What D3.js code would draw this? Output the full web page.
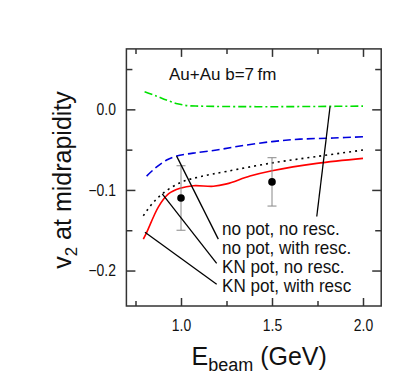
<!DOCTYPE html>
<meta charset="utf-8">
<script src="https://d3js.org/d3.v7.min.js"></script>
<style>
  body { margin: 0; background: #fff; }
  text { font-family: "Liberation Sans", Arial, sans-serif; fill: #111; }
</style>
<div id="chart"></div>
<script>
    // curves (E_beam in GeV, v2)
    var noPotNoRescE = [0.80, 0.86, 0.92, 0.98, 1.04, 1.10, 1.25, 1.50, 1.75, 2.00]
    var noPotNoRescV = [0.0218, 0.017, 0.0115, 0.007, 0.0045, 0.004, 0.0035, 0.0033, 0.0036, 0.004]

    var noPotRescE = [0.811, 0.857, 0.921, 0.976, 1.031, 1.086, 1.196, 1.324, 1.50, 1.654, 1.837, 2.00]
    var noPotRescV = [-0.0828, -0.0732, -0.0629, -0.058, -0.0555, -0.0538, -0.0505, -0.0455, -0.040, -0.037, -0.0356, -0.034]

    var knNoRescE = [0.793, 0.842, 0.897, 0.995, 1.104, 1.251, 1.50, 1.746, 2.00]
    var knNoRescV = [-0.132, -0.117, -0.105, -0.091, -0.0836, -0.077, -0.0665, -0.0585, -0.0505]

    var knRescE = [0.793, 0.811, 0.876, 0.931, 0.995, 1.068, 1.178, 1.251, 1.379, 1.50, 1.746, 2.00]
    var knRescV = [-0.161, -0.153, -0.121, -0.105, -0.098, -0.0948, -0.0955, -0.0925, -0.0828, -0.0762, -0.067, -0.0608]

    // measured points with errors
    var dataE = [1.0, 1.5]
    var dataV = [-0.110, -0.090]
    var dataErr = [0.040, 0.030]

    // legend texts and pointer lines (tip on curve -> end near text)
    var labels = ["no pot, no resc.", "no pot, with resc.", "KN pot, no resc.", "KN pot, with resc"]
    var pointerFromE = [1.819, 0.976, 0.897, 0.802]
    var pointerFromV = [0.0035, -0.058, -0.105, -0.1526]
    var pointerToE = [1.746, 1.205, 1.196, 1.196]
    var pointerToV = [-0.133, -0.161, -0.191, -0.217]

    var xMajor = [1.0, 1.5, 2.0]
    var xMinor = [0.75, 1.25, 1.75]
    var yMajor = [0.0, -0.1, -0.2]
    var yMinor = [0.05, -0.05, -0.15]

    var W = 415, H = 387

    var svg = d3.select("#chart").append("svg")
        .attr("width", W)
        .attr("height", H)

    var x = d3.scaleLinear().domain([0.7, 2.1]).range([126.4, 381.2])
    var y = d3.scaleLinear().domain([-0.244, 0.075]).range([306, 48.9])

    var frameBottom = y(-0.244), frameTop = y(0.075), frameLeft = x(0.7), frameRight = x(2.1)

    // frame
    svg.append("rect")
        .attr("x", frameLeft).attr("y", frameTop)
        .attr("width", frameRight - frameLeft)
        .attr("height", frameBottom - frameTop)
        .attr("fill", "none")
        .attr("stroke", "#333")
        .attr("stroke-width", 1.5)

    // ticks on all four sides, pointing inwards
    function ticks(axisFn, scale, values, size, pos, labelled, padding) {
        var g = svg.append("g")
            .attr("transform", pos)
            .call(axisFn(scale).tickValues(values).tickSizeInner(-size).tickSizeOuter(0)
                .tickPadding(padding || 0))
        g.select(".domain").remove()
        g.selectAll("line").attr("stroke", "#333").attr("stroke-width", 1.5)
        g.selectAll("text").attr("font-size", 16).attr("fill", "#111")
            .text(function (d) { return labelled ? d3.format(".1f")(d).replace("-", "\u2212") : "" })
        return g
    }
    ticks(d3.axisBottom, x, xMajor, 8, "translate(0," + frameBottom + ")", true, 14)
        .selectAll("text").attr("transform", "scale(0.87,1)")
    ticks(d3.axisBottom, x, xMinor, 5, "translate(0," + frameBottom + ")", false)
    ticks(d3.axisTop, x, xMajor, 8, "translate(0," + frameTop + ")", false)
    ticks(d3.axisTop, x, xMinor, 5, "translate(0," + frameTop + ")", false)
    ticks(d3.axisLeft, y, yMajor, 9, "translate(" + frameLeft + ",0)", true, 12)
        .selectAll("text").attr("transform", "scale(0.87,1)")
    ticks(d3.axisLeft, y, yMinor, 6, "translate(" + frameLeft + ",0)", false)
    ticks(d3.axisRight, y, yMajor, 9, "translate(" + frameRight + ",0)", false)
    ticks(d3.axisRight, y, yMinor, 6, "translate(" + frameRight + ",0)", false)

    // curves
    var line = d3.line()
        .x(function (d) { return x(d[0]) })
        .y(function (d) { return y(d[1]) })
        .curve(d3.curveCatmullRom.alpha(0.5))

    function curve(es, vs, color, dash) {
        svg.append("path")
            .datum(d3.zip(es, vs))
            .attr("d", line)
            .attr("fill", "none")
            .attr("stroke", color)
            .attr("stroke-width", 1.6)
            .attr("stroke-dasharray", dash)
    }
    curve(noPotNoRescE, noPotNoRescV, "#00e000", "8,3,2,3")
    curve(noPotRescE, noPotRescV, "#0000dd", "8,4")
    curve(knNoRescE, knNoRescV, "#000", "2,4")
    curve(knRescE, knRescV, "#f00", null)

    // error bars and points
    var bars = svg.append("g")
    dataE.forEach(function (e, i) {
        var lo = y(dataV[i] - dataErr[i]), hi = y(dataV[i] + dataErr[i])
        bars.append("line").attr("x1", x(e)).attr("x2", x(e)).attr("y1", lo).attr("y2", hi)
            .attr("stroke", "#888").attr("stroke-width", 1)
        bars.selectAll(null).data([lo, hi]).enter().append("line")
            .attr("x1", x(e) - 4.5).attr("x2", x(e) + 4.5)
            .attr("y1", function (d) { return d }).attr("y2", function (d) { return d })
            .attr("stroke", "#888").attr("stroke-width", 1)
        bars.append("circle").attr("cx", x(e)).attr("cy", y(dataV[i])).attr("r", 3.8).attr("fill", "#000")
    })

    // pointer lines
    labels.forEach(function (t, i) {
        svg.append("line")
            .attr("x1", x(pointerFromE[i])).attr("y1", y(pointerFromV[i]))
            .attr("x2", x(pointerToE[i])).attr("y2", y(pointerToV[i]))
            .attr("stroke", "#000").attr("stroke-width", 1.3)
    })

    // legend texts
    labels.forEach(function (t, i) {
        svg.append("text")
            .attr("transform", "translate(222," + (235 + i * 19) + ") scale(0.95,1)")
            .attr("font-size", 18)
            .text(t)
    })

    // title
    svg.append("text")
        .attr("x", 169).attr("y", 79.5)
        .attr("font-size", 17)
        .text("Au+Au b=7\u2009fm")

    // x label
    var xl = svg.append("text")
        .attr("x", 191.5).attr("y", 365)
        .attr("font-size", 25)
    xl.append("tspan").text("E")
    xl.append("tspan").attr("font-size", 18).attr("dy", 6).text("beam")
    xl.append("tspan").attr("dy", -6).text(" (GeV)")

    // y label
    var yl = svg.append("text")
        .attr("transform", "translate(71,180) rotate(-90)")
        .attr("text-anchor", "middle")
        .attr("font-size", 25)
    yl.append("tspan").text("v")
    yl.append("tspan").attr("font-size", 17).attr("dy", 6).text("2")
    yl.append("tspan").attr("dy", -6).text(" at midrapidity")
</script>
